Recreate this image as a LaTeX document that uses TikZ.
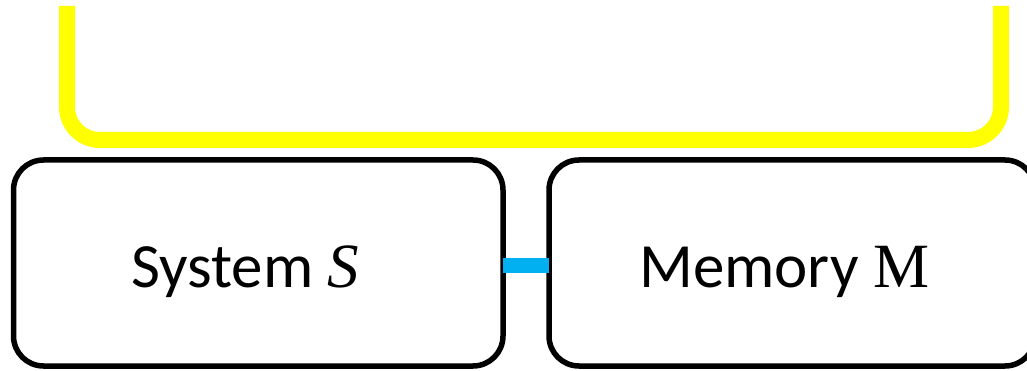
\documentclass[tikz,border=0pt]{standalone}
\usepackage{fontspec}
\setmainfont{Carlito}
\newfontfamily\serifface{Liberation Serif}
\definecolor{brightyellow}{HTML}{FFFF00}
\definecolor{linkblue}{HTML}{00B0F0}
\tikzset{
  blockbox/.style={draw=black, line width=5.5pt, rounded corners=30pt, minimum width=#1, minimum height=206pt, inner sep=0pt, outer sep=0pt},
  labeltext/.style={font=\fontsize{63}{70}\selectfont, anchor=base west, inner sep=0pt},
  bracketline/.style={draw=brightyellow, line width=16pt, rounded corners=33pt},
  linkline/.style={draw=linkblue, line width=15pt}
}
\begin{document}
\begin{tikzpicture}[x=1pt,y=-1pt]
\useasboundingbox (0,0) rectangle (1027,371);
\draw[bracketline] (67,6) -- (67,140) -- (1001,140) -- (1001,6);
\node[blockbox=489.5pt] (sys) at (258.25,263) {};
\node[blockbox=486pt] (mem) at (792,263) {};
\draw[linkline] ([yshift=-2pt]sys.east) -- ([yshift=-2pt]mem.west);
\node[labeltext] (systxt) at (131,287) {System {\serifface\itshape S}};
\node[labeltext] (memtxt) at (639,287) {Memory {\serifface M}};
\end{tikzpicture}
\end{document}
